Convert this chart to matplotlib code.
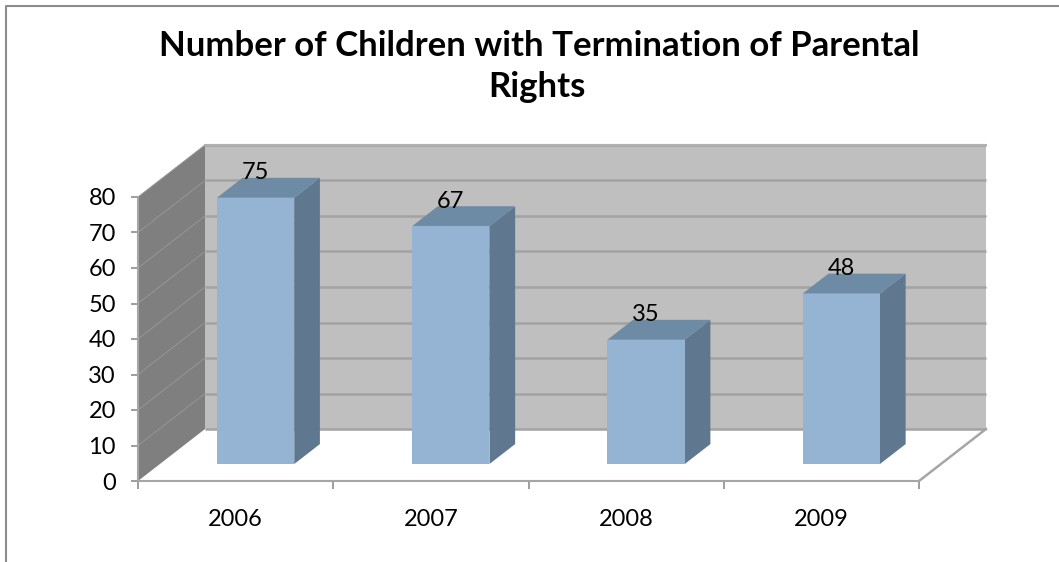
import matplotlib
matplotlib.use("Agg")
import matplotlib.pyplot as plt
from matplotlib.lines import Line2D
from matplotlib.patches import Polygon

years = ["2006", "2007", "2008", "2009"]
values = [75, 67, 35, 48]
y_ticks = [0, 10, 20, 30, 40, 50, 60, 70, 80]
title_lines = ["Number of Children with Termination of Parental", "Rights"]

W, H = 1059, 562
plt.rcParams["font.family"] = ["Lato", "DejaVu Sans"]
fig = plt.figure(figsize=(W / 100, H / 100), dpi=100, facecolor="white")

# front plane of the 3D box, in pixels
L, R, T, B = 138, 919, 197, 481
ax = fig.add_axes([L / W, 1 - B / H, (R - L) / W, (B - T) / H])
ax.set_xlim(0, 4)
ax.set_ylim(0, 80)
ax.patch.set_visible(False)

UX = (R - L) / 4
UY = (B - T) / 80
DX = 67 / UX   # depth shift in x units
DY = 52 / UY   # depth shift in y units


def P(u, v, d=0.0):
    return (u + d * DX, v + d * DY)


def face(pts, color, z=1, lw=0.0):
    ax.add_patch(Polygon(pts, closed=True, facecolor=color, edgecolor=color,
                         linewidth=lw, clip_on=False, zorder=z))


# walls
face([P(0, 0, 1), P(4, 0, 1), P(4, 80, 1), P(0, 80, 1)], "#BFBFBF", 1)
face([P(0, 0, 0), P(0, 0, 1), P(0, 80, 1), P(0, 80, 0)], "#7F7F7F", 1)

GRID = "#A3A3A3"
for t in y_ticks:
    a, b = P(0, t, 0), P(0, t, 1)
    c = P(4, t, 1)
    if t > 0:
        ax.plot([a[0], b[0]], [a[1], b[1]], color="#969696", lw=0.7,
                clip_on=False, zorder=2)
    ax.plot([b[0], c[0]], [b[1], c[1]], color=GRID, lw=1.8,
            clip_on=False, zorder=2, solid_capstyle="butt")
# wall/floor outline
ax.plot(*zip(P(0, 80, 1), P(4, 80, 1)), color="#B0B0B0", lw=1.5, clip_on=False, zorder=2)
ax.plot(*zip(P(4, 0, 0), P(4, 0, 1)), color="#A6A6A6", lw=1.8, clip_on=False, zorder=2)

# bars
BAR_W = 0.396
D0, D1 = 0.327, 0.71
for i, val in enumerate(values):
    x0 = i + 0.292
    x1 = x0 + BAR_W
    face([P(x1, 0, D0), P(x1, 0, D1), P(x1, val, D1), P(x1, val, D0)], "#5F7890", 3)
    face([P(x0, val, D0), P(x1, val, D0), P(x1, val, D1), P(x0, val, D1)], "#6E8BA5", 3)
    face([P(x0, 0, D0), P(x1, 0, D0), P(x1, val, D0), P(x0, val, D0)], "#95B4D4", 4)
    cx, cy = P((x0 + x1) / 2, val, D0)
    ax.annotate(str(val), (cx, cy), xytext=(0, 25 * 0.72), textcoords="offset points",
                ha="center", va="center", fontsize=17, color="black",
                annotation_clip=False, zorder=6)

# axes
for s in ("top", "right"):
    ax.spines[s].set_visible(False)
for s in ("left", "bottom"):
    ax.spines[s].set_color("#A6A6A6")
    ax.spines[s].set_linewidth(1.5)
    ax.spines[s].set_zorder(5)
ax.set_yticks(y_ticks)
ax.tick_params(axis="y", length=5, width=1.2, color="#8C8C8C", labelsize=17, pad=11)
ax.set_xticks(range(5))
ax.set_xticklabels([])
ax.tick_params(axis="x", which="major", length=6, width=1.2, color="#8C8C8C")
ax.set_xticks([i + 0.5 for i in range(4)], minor=True)
ax.set_xticklabels(years, minor=True)
ax.tick_params(axis="x", which="minor", length=0, labelsize=17, pad=20)

fig.text(539 / W, 1 - 46 / H, title_lines[0], ha="center", va="center",
         fontsize=25, fontweight="bold", color="black")
fig.text(537 / W, 1 - 87 / H, title_lines[1], ha="center", va="center",
         fontsize=25, fontweight="bold", color="black")

# chart-area border (top and left only are inside the crop)
fig.add_artist(Line2D([6 / W, 6 / W, 1], [0, 1 - 5.5 / H, 1 - 5.5 / H],
                      color="#8C8C8C", lw=1.5, transform=fig.transFigure))

fig.savefig("out.png", dpi=100, facecolor="white")
